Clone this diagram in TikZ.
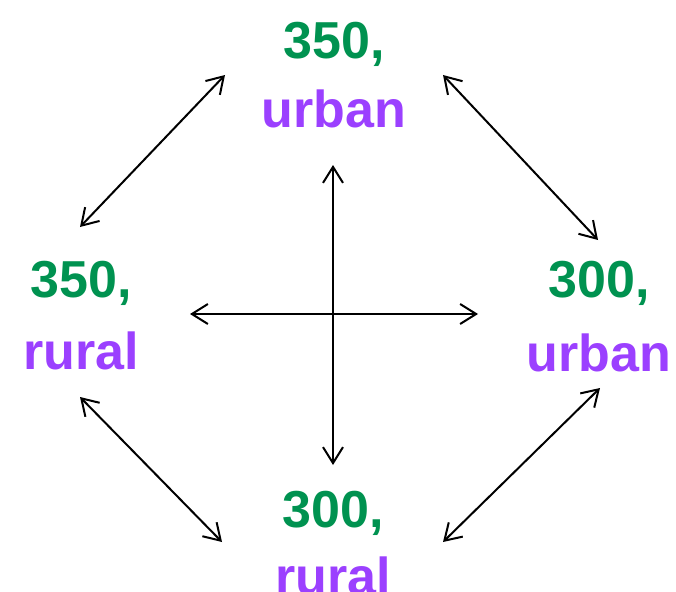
\documentclass[tikz,border=0pt]{standalone}
\usepackage{fontspec}
\setmainfont{Liberation Sans}
\usetikzlibrary{arrows.meta}
\definecolor{numgreen}{RGB}{0,146,80}
\definecolor{wordpurple}{RGB}{155,64,255}
\begin{document}
\begin{tikzpicture}[x=1pt,y=-1pt,
  numlabel/.style={anchor=base,inner sep=0pt,text=numgreen,font=\fontsize{52}{62}\selectfont\bfseries},
  wordlabel/.style={anchor=base,inner sep=0pt,text=wordpurple,font=\fontsize{52}{62}\selectfont\bfseries},
  link/.style={line width=2pt,{Straight Barb[length=16pt,width=20pt]}-{Straight Barb[length=16pt,width=20pt]}}]
\useasboundingbox (0,0) rectangle (676,591);
% labels: number on the first line, area type on the second
\node[numlabel]  (tnum)  at (334,59)  {350,};
\node[wordlabel] (tword) at (334,127) {urban};
\node[numlabel]  (lnum)  at (81,297)  {350,};
\node[wordlabel] (lword) at (81,369)  {rural};
\node[numlabel]  (rnum)  at (599,297) {300,};
\node[wordlabel] (rword) at (599,371) {urban};
\node[numlabel]  (bnum)  at (333,527) {300,};
\node[wordlabel] (bword) at (333,594) {rural};
% arrow end points
\coordinate (tlA) at (80,227);  \coordinate (tlB) at (225,75);
\coordinate (trA) at (443,75);  \coordinate (trB) at (598,240);
\coordinate (blA) at (80,397);  \coordinate (blB) at (222,542);
\coordinate (brA) at (600,388); \coordinate (brB) at (443,542);
\coordinate (hA) at (190,314);  \coordinate (hB) at (478,314);
\coordinate (vA) at (333,165);  \coordinate (vB) at (333,465);
% connectors
\draw[link] (tlA) -- (tlB);
\draw[link] (trA) -- (trB);
\draw[link] (blA) -- (blB);
\draw[link] (brA) -- (brB);
\draw[link] (hA) -- (hB);
\draw[link] (vA) -- (vB);
\end{tikzpicture}
\end{document}
